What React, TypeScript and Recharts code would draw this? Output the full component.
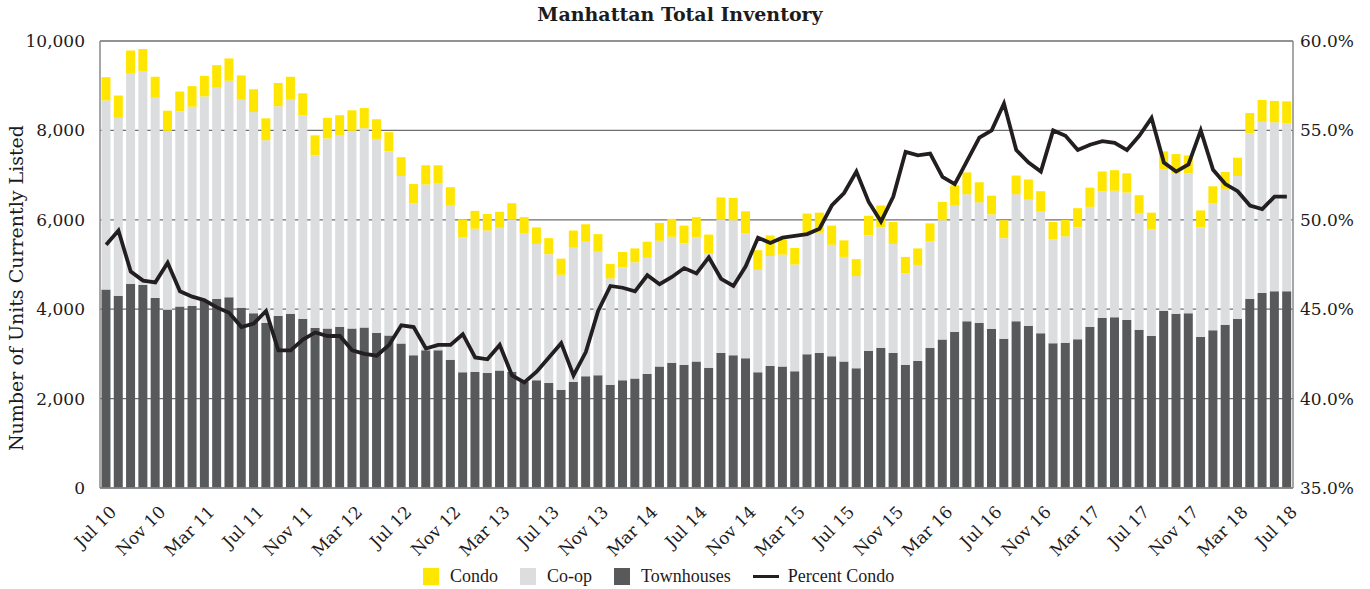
import React from 'react';
import { ComposedChart, Bar, Line, XAxis, YAxis, CartesianGrid } from 'recharts';

const months = [
  'Jul 10', 'Aug 10', 'Sep 10', 'Oct 10', 'Nov 10', 'Dec 10',
  'Jan 11', 'Feb 11', 'Mar 11', 'Apr 11', 'May 11', 'Jun 11', 'Jul 11', 'Aug 11', 'Sep 11', 'Oct 11', 'Nov 11', 'Dec 11',
  'Jan 12', 'Feb 12', 'Mar 12', 'Apr 12', 'May 12', 'Jun 12', 'Jul 12', 'Aug 12', 'Sep 12', 'Oct 12', 'Nov 12', 'Dec 12',
  'Jan 13', 'Feb 13', 'Mar 13', 'Apr 13', 'May 13', 'Jun 13', 'Jul 13', 'Aug 13', 'Sep 13', 'Oct 13', 'Nov 13', 'Dec 13',
  'Jan 14', 'Feb 14', 'Mar 14', 'Apr 14', 'May 14', 'Jun 14', 'Jul 14', 'Aug 14', 'Sep 14', 'Oct 14', 'Nov 14', 'Dec 14',
  'Jan 15', 'Feb 15', 'Mar 15', 'Apr 15', 'May 15', 'Jun 15', 'Jul 15', 'Aug 15', 'Sep 15', 'Oct 15', 'Nov 15', 'Dec 15',
  'Jan 16', 'Feb 16', 'Mar 16', 'Apr 16', 'May 16', 'Jun 16', 'Jul 16', 'Aug 16', 'Sep 16', 'Oct 16', 'Nov 16', 'Dec 16',
  'Jan 17', 'Feb 17', 'Mar 17', 'Apr 17', 'May 17', 'Jun 17', 'Jul 17', 'Aug 17', 'Sep 17', 'Oct 17', 'Nov 17', 'Dec 17',
  'Jan 18', 'Feb 18', 'Mar 18', 'Apr 18', 'May 18', 'Jun 18', 'Jul 18',
];

const townhouses = [
  4440, 4300, 4570, 4540, 4250, 3990,
  4060, 4070, 4190, 4230, 4270, 4030, 3910, 3690, 3850, 3900, 3780, 3580,
  3570, 3600, 3570, 3590, 3470, 3410, 3230, 2970, 3080, 3080, 2870, 2590,
  2600, 2570, 2630, 2600, 2370, 2410, 2350, 2190, 2370, 2500, 2520, 2310,
  2410, 2450, 2550, 2720, 2800, 2750, 2830, 2690, 3020, 2970, 2900, 2590,
  2730, 2720, 2610, 2990, 3020, 2950, 2830, 2680, 3070, 3130, 3020, 2750,
  2840, 3130, 3320, 3490, 3730, 3690, 3560, 3340, 3730, 3630, 3460, 3240,
  3250, 3330, 3600, 3810, 3820, 3760, 3540, 3400, 3960, 3900, 3910, 3380,
  3530, 3650, 3780, 4230, 4360, 4400, 4400,
];

const coop = [
  4230, 3980, 4700, 4790, 4480, 4000,
  4370, 4460, 4570, 4740, 4840, 4670, 4500, 4090, 4690, 4800, 4550, 3860,
  4250, 4280, 4420, 4460, 4340, 4120, 3750, 3400, 3710, 3730, 3460, 3020,
  3200, 3190, 3190, 3400, 3320, 3050, 2880, 2580, 3020, 3010, 2780, 2380,
  2530, 2600, 2600, 2810, 2820, 2720, 2780, 2550, 2990, 3020, 2800, 2290,
  2460, 2500, 2390, 2720, 2690, 2490, 2340, 2060, 2580, 2700, 2440, 2050,
  2150, 2390, 2670, 2840, 2840, 2700, 2560, 2250, 2840, 2820, 2720, 2320,
  2380, 2500, 2690, 2820, 2830, 2850, 2600, 2380, 3170, 3140, 3130, 2450,
  2840, 3040, 3200, 3700, 3830, 3780, 3760,
];

const condo = [
  520, 500, 520, 490, 470, 450,
  440, 460, 460, 490, 500, 530, 510, 490, 520, 500, 500, 450,
  460, 460, 460, 450, 440, 430, 420, 430, 430, 410, 400, 400,
  400, 370, 360, 370, 370, 370, 360, 360, 370, 390, 380, 320,
  340, 310, 360, 400, 400, 400, 450, 430, 490, 500, 490, 440,
  460, 340, 370, 430, 450, 430, 370, 380, 440, 490, 490, 370,
  370, 400, 410, 440, 490, 450, 420, 400, 420, 450, 460, 390,
  370, 430, 430, 450, 460, 430, 410, 380, 400, 430, 400, 380,
  380, 380, 410, 460, 490, 480, 490,
];

const percentCondo = [
  48.6, 49.4, 47.1, 46.6, 46.5, 47.6,
  46.0, 45.7, 45.5, 45.1, 44.8, 44.0, 44.2, 44.9, 42.7, 42.7, 43.3, 43.7,
  43.5, 43.5, 42.7, 42.5, 42.4, 43.0, 44.1, 44.0, 42.8, 43.0, 43.0, 43.6,
  42.3, 42.2, 43.0, 41.3, 40.9, 41.5, 42.3, 43.1, 41.3, 42.6, 44.9, 46.3,
  46.2, 46.0, 46.9, 46.4, 46.8, 47.3, 47.0, 47.9, 46.7, 46.3, 47.4, 49.0,
  48.7, 49.0, 49.1, 49.2, 49.5, 50.8, 51.5, 52.7, 51.0, 49.9, 51.3, 53.8,
  53.6, 53.7, 52.4, 52.0, 53.3, 54.6, 55.0, 56.5, 53.9, 53.2, 52.7, 55.0,
  54.7, 53.9, 54.2, 54.4, 54.3, 53.9, 54.7, 55.7, 53.2, 52.7, 53.1, 55.0,
  52.8, 52.0, 51.6, 50.8, 50.6, 51.3, 51.3,
];

const leftTicks = [0, 2000, 4000, 6000, 8000, 10000];
const rightTicks = [35, 40, 45, 50, 55, 60];

const COLORS = {
  condo: '#FFE600',
  coop: '#DCDDDE',
  townhouses: '#58595B',
  line: '#231F20',
  grid: '#6E6E6E',
  axis: '#8A8A8A',
  text: '#1E1B1C',
};

const legendItems = [
  { name: 'Condo', color: COLORS.condo, kind: 'square' },
  { name: 'Co-op', color: COLORS.coop, kind: 'square' },
  { name: 'Townhouses', color: COLORS.townhouses, kind: 'square' },
  { name: 'Percent Condo', color: COLORS.line, kind: 'line' },
];

const data = months.map((m, i) => ({
  month: m,
  townhouses: townhouses[i],
  coop: coop[i],
  condo: condo[i],
  pct: percentCondo[i],
}));

const FONT = '"DejaVu Serif", serif';

const XTick = (props: any) => {
  const { x, y, payload } = props;
  return (
    <g transform={`translate(${x + 7},${y + 21})`}>
      <text
        textAnchor="end"
        transform="rotate(-45)"
        fontFamily={FONT}
        fontSize={17}
        fill={COLORS.text}
        dy="0.35em"
      >
        {payload.value}
      </text>
    </g>
  );
};

const YLabel = () => (
  <text
    x={23}
    y={288}
    transform="rotate(-90 23 288)"
    textAnchor="middle"
    fontFamily={FONT}
    fontSize={19}
    fill={COLORS.text}
  >
    Number of Units Currently Listed
  </text>
);

export default function App() {
  return (
    <div style={{ position: 'absolute', left: 0, top: 0, width: 1370, height: 589, background: '#fff' }}>
      <div
        style={{
          position: 'absolute',
          left: 0,
          top: 5,
          width: 1360,
          textAlign: 'center',
          fontFamily: FONT,
          fontWeight: 'bold',
          fontSize: 19,
          lineHeight: '19px',
          color: COLORS.text,
        }}
      >
        Manhattan Total Inventory
      </div>
      <ComposedChart
        width={1370}
        height={589}
        data={data}
        margin={{ top: 41, right: 0, bottom: 0, left: 0 }}
        barCategoryGap="12%"
      >
        <CartesianGrid yAxisId="left" vertical={false} stroke={COLORS.grid} strokeWidth={1.3} />
        <XAxis
          dataKey="month"
          interval={3}
          height={101}
          tickSize={0}
          tickMargin={0}
          tickLine={false}
          axisLine={{ stroke: COLORS.axis, strokeWidth: 1.5 }}
          tick={(p: any) => <XTick {...p} />}
        />
        <YAxis
          yAxisId="left"
          orientation="left"
          width={100}
          domain={[0, 10000]}
          ticks={leftTicks}
          tickSize={0}
          tickMargin={15}
          tickLine={false}
          axisLine={{ stroke: COLORS.axis, strokeWidth: 1.5 }}
          tick={{ fill: COLORS.text, fontSize: 17, fontFamily: FONT }}
          tickFormatter={(v: number) => v.toLocaleString('en-US')}
          label={{ content: () => <YLabel /> }}
        />
        <YAxis
          yAxisId="right"
          orientation="right"
          width={77}
          domain={[35, 60]}
          ticks={rightTicks}
          tickSize={0}
          tickMargin={7}
          tickLine={false}
          axisLine={{ stroke: COLORS.axis, strokeWidth: 1.5 }}
          tick={{ fill: COLORS.text, fontSize: 17, fontFamily: FONT }}
          tickFormatter={(v: number) => `${v.toFixed(1)}%`}
        />
        <Bar yAxisId="left" dataKey="townhouses" stackId="a" fill={COLORS.townhouses} isAnimationActive={false} />
        <Bar yAxisId="left" dataKey="coop" stackId="a" fill={COLORS.coop} isAnimationActive={false} />
        <Bar yAxisId="left" dataKey="condo" stackId="a" fill={COLORS.condo} isAnimationActive={false} />
        <Line
          yAxisId="right"
          type="linear"
          dataKey="pct"
          stroke={COLORS.line}
          strokeWidth={3.8}
          dot={false}
          activeDot={false}
          isAnimationActive={false}
        />
      </ComposedChart>
      <div
        style={{
          position: 'absolute',
          left: 423,
          top: 568,
          height: 17,
          display: 'flex',
          alignItems: 'center',
          fontFamily: '"Liberation Serif", serif',
          fontSize: 18,
          color: COLORS.text,
          whiteSpace: 'nowrap',
        }}
      >
        {legendItems.map((it) => (
          <div key={it.name} style={{ display: 'flex', alignItems: 'center', marginRight: 22 }}>
            {it.kind === 'square' ? (
              <div style={{ width: 16, height: 17, background: it.color }} />
            ) : (
              <div style={{ width: 26, height: 3, background: it.color }} />
            )}
            <span style={{ marginLeft: it.kind === 'square' ? 11 : 9 }}>{it.name}</span>
          </div>
        ))}
      </div>
    </div>
  );
}
